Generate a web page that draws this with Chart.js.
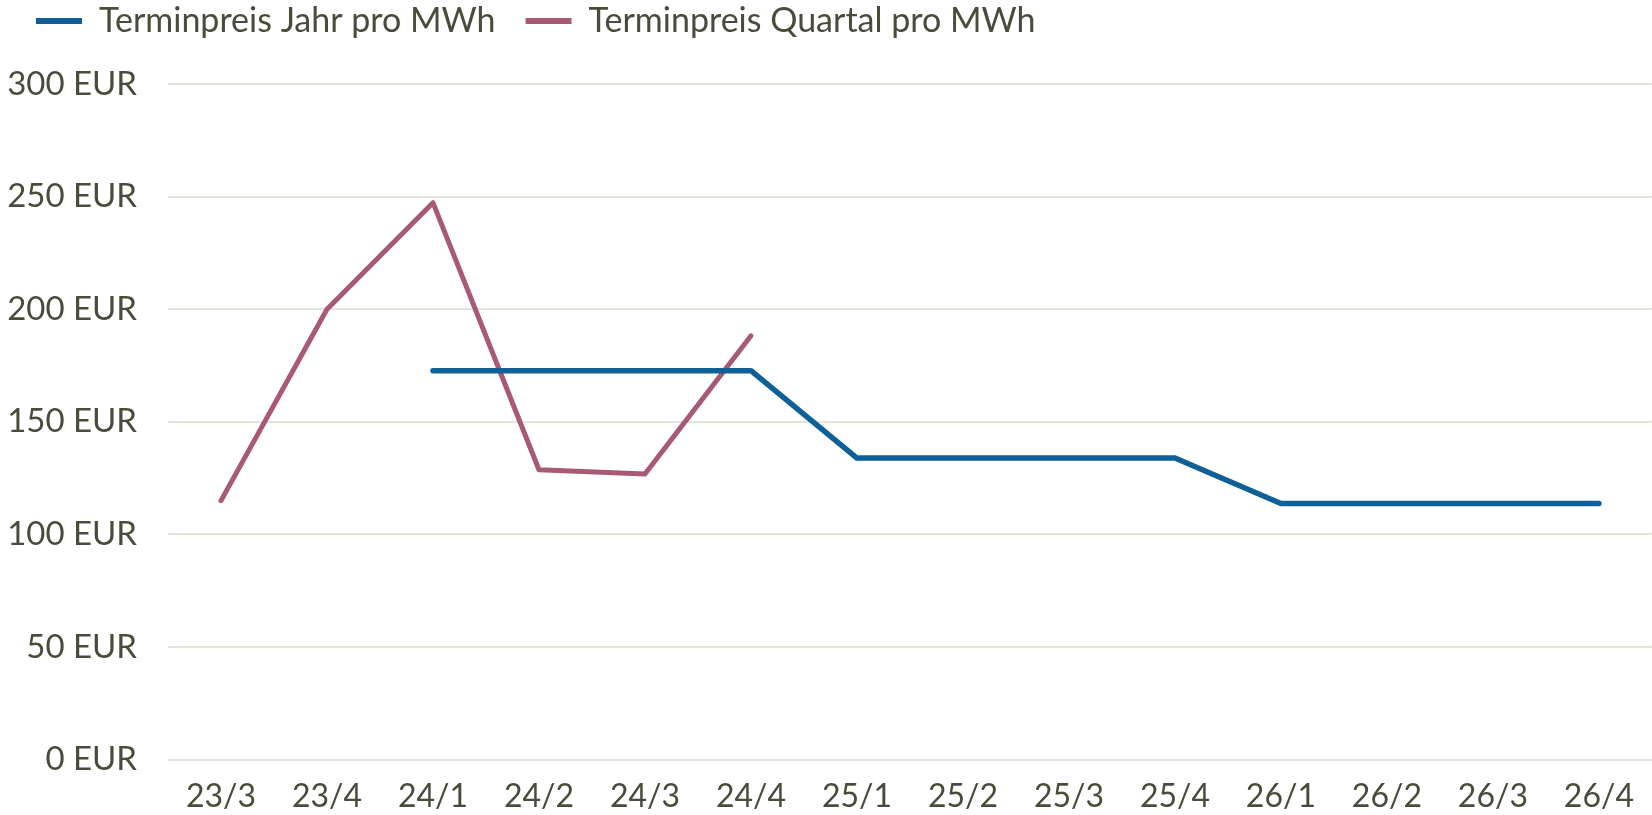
<!DOCTYPE html>
<html>
<head>
<meta charset="utf-8">
<script src="https://cdn.jsdelivr.net/npm/chart.js@4/dist/chart.umd.min.js"></script>
<style>
  html, body { margin: 0; padding: 0; background: #ffffff; }
  #wrap { width: 1652px; height: 815px; position: relative; }
</style>
</head>
<body>
<div id="wrap"><canvas id="c"></canvas></div>
<script>
const categories = ['23/3','23/4','24/1','24/2','24/3','24/4','25/1','25/2','25/3','25/4','26/1','26/2','26/3','26/4'];
const jahrValues = [null, null, 172.7, 172.7, 172.7, 172.7, 133.9, 133.9, 133.9, 133.9, 113.7, 113.7, 113.7, 113.7];
const quartalValues = [115, 200, 247.3, 128.7, 126.8, 188.2, null, null, null, null, null, null, null, null];
const seriesNames = ['Terminpreis Jahr pro MWh', 'Terminpreis Quartal pro MWh'];
const yTicks = [0, 50, 100, 150, 200, 250, 300];

const textColor = '#4b4b3b';
const gridColor = '#e5e5de';
const blue = '#0f6096';
const pink = '#a85a74';
const fontFamily = 'Lato';

// extra room below the legend, and lift the legend to the top edge
const legendTweak = {
  id: 'legendTweak',
  beforeInit(chart) {
    const origFit = chart.legend.fit;
    chart.legend.fit = function () {
      origFit.bind(chart.legend)();
      this.height += 10;
    };
  },
  afterLayout(chart) {
    const lg = chart.legend;
    lg.top -= 26;
    lg.bottom -= 26;
  }
};

new Chart(document.getElementById('c'), {
  type: 'line',
  data: {
    labels: categories,
    datasets: [
      {
        label: seriesNames[0],
        data: jahrValues,
        borderColor: blue,
        backgroundColor: blue,
        borderWidth: 5.5,
        pointRadius: 0,
        borderCapStyle: 'round',
        borderJoinStyle: 'round',
        tension: 0,
        spanGaps: false
      },
      {
        label: seriesNames[1],
        data: quartalValues,
        borderColor: pink,
        backgroundColor: pink,
        borderWidth: 5,
        pointRadius: 0,
        borderCapStyle: 'round',
        borderJoinStyle: 'round',
        tension: 0,
        spanGaps: false
      }
    ]
  },
  options: {
    responsive: true,
    maintainAspectRatio: false,
    animation: false,
    layout: { padding: { left: 6, right: 0, top: 0, bottom: 0 } },
    plugins: {
      legend: {
        display: true,
        position: 'top',
        align: 'start',
        labels: {
          color: textColor,
          font: { family: fontFamily, size: 34 },
          boxWidth: 46,
          boxHeight: 6,
          padding: 30,
          generateLabels(chart) {
            const items = Chart.defaults.plugins.legend.labels.generateLabels(chart);
            items.forEach(it => { it.lineWidth = 0; });
            return items;
          }
        }
      },
      tooltip: { enabled: false }
    },
    scales: {
      x: {
        offset: true,
        grid: { display: false, drawTicks: false },
        border: { display: false },
        afterFit(axis) { axis.height = 55.4; },
        ticks: {
          color: textColor,
          font: { family: fontFamily, size: 32 },
          padding: 18,
          maxRotation: 0,
          autoSkip: false
        }
      },
      y: {
        min: 0,
        max: 300,
        afterBuildTicks(axis) { axis.ticks = yTicks.map(v => ({ value: v })); },
        afterFit(axis) { axis.width = 162; },
        grid: { color: gridColor, lineWidth: 2, drawTicks: false },
        border: { display: false },
        ticks: {
          color: textColor,
          font: { family: fontFamily, size: 33 },
          padding: 31,
          callback: (v) => v + ' EUR'
        }
      }
    }
  },
  plugins: [legendTweak]
});
</script>
</body>
</html>
